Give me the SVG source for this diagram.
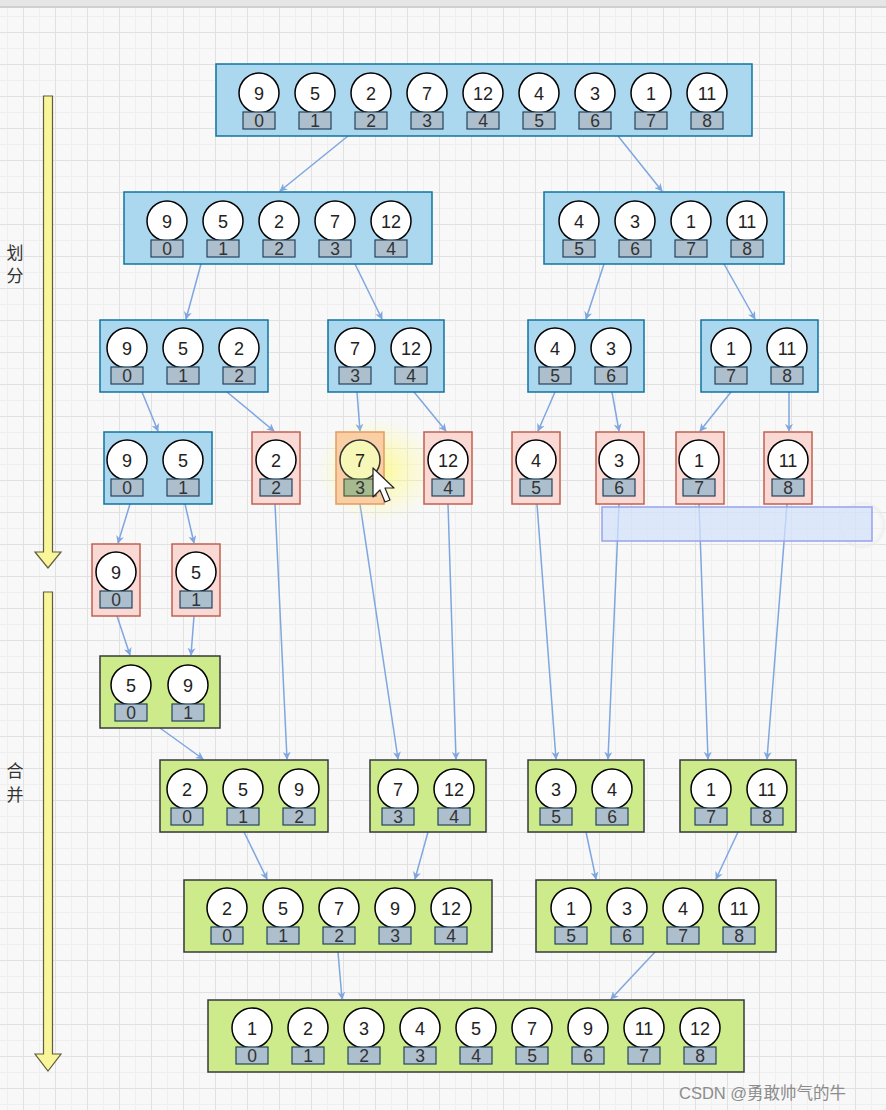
<svg xmlns="http://www.w3.org/2000/svg" width="886" height="1110" viewBox="0 0 886 1110">
<defs>
<pattern id="grid" x="23" y="0" width="32" height="32" patternUnits="userSpaceOnUse">
<rect width="32" height="32" fill="#f8f8f8"/>
<path d="M16.5,0 V32 M0,16.5 H32" stroke="#efefef" stroke-width="1"/>
<path d="M0.5,0 V32 M0,0.5 H32" stroke="#e1e1e1" stroke-width="1"/>
</pattern>
<marker id="ah" viewBox="0 0 10 10" refX="9" refY="5" markerWidth="8" markerHeight="8" markerUnits="userSpaceOnUse" orient="auto">
<path d="M0,0 L10,5 L0,10 L3,5 Z" fill="#7ea6e0"/>
</marker>
<radialGradient id="glow" cx="0.5" cy="0.5" r="0.5">
<stop offset="0" stop-color="#fffb6a" stop-opacity="0.7"/>
<stop offset="0.55" stop-color="#fffb8a" stop-opacity="0.35"/>
<stop offset="1" stop-color="#ffffa0" stop-opacity="0"/>
</radialGradient>
<radialGradient id="glow2" cx="0.5" cy="0.5" r="0.5">
<stop offset="0.6" stop-color="#ffffff" stop-opacity="0"/>
<stop offset="0.85" stop-color="#e8e8e8" stop-opacity="0.6"/>
<stop offset="1" stop-color="#ffffff" stop-opacity="0"/>
</radialGradient>
</defs>
<style>
.blue{fill:#acd8ef;stroke:#10739e;stroke-width:1.5}
.red{fill:#fad9d5;stroke:#c0604f;stroke-width:1.5}
.green{fill:#cdeb8b;stroke:#36393d;stroke-width:1.5}
.c{fill:#ffffff;stroke:#000000;stroke-width:1.5}
.ix{fill:#adbecd;stroke:#23445d;stroke-width:1.2}
.n{font-family:"Liberation Sans",Arial,sans-serif;font-size:18px;fill:#222;text-anchor:middle}
.i{font-family:"Liberation Sans",Arial,sans-serif;font-size:17.5px;fill:#333;text-anchor:middle}
.lbl{font-family:"Noto Sans CJK SC","Noto Sans",sans-serif;font-size:17px;fill:#333;text-anchor:middle}
.conn line{stroke:#7ea6e0;stroke-width:1.5;marker-end:url(#ah)}
.yarrow{fill:#f9f59a;stroke:#5e5e3e;stroke-width:1.2}
</style>
<rect width="886" height="1110" fill="url(#grid)"/>
<rect x="0" y="0" width="886" height="6" fill="#e6e6e6"/>
<rect x="0" y="6" width="886" height="2" fill="#d0d0d0"/>

<g id="side">
<path class="yarrow" d="M43.5,96 H52.5 V552 H61 L48,568 L35,552 H43.5 Z"/>
<path class="yarrow" d="M43.5,592 H52.5 V1054 H61 L48,1071 L35,1054 H43.5 Z"/>
<text class="lbl" x="15" y="259">划</text>
<text class="lbl" x="15" y="282">分</text>
<text class="lbl" x="15" y="777">合</text>
<text class="lbl" x="15" y="801">并</text>
</g>

<g class="conn" id="connectors">
<line x1="348" y1="136" x2="280" y2="191"/>
<line x1="618" y1="136" x2="662" y2="191"/>
<line x1="201" y1="264" x2="186" y2="319"/>
<line x1="355" y1="264" x2="382" y2="319"/>
<line x1="604" y1="264" x2="586" y2="319"/>
<line x1="724" y1="264" x2="755" y2="319"/>
<line x1="142" y1="392" x2="158" y2="431"/>
<line x1="227" y1="392" x2="274" y2="431"/>
<line x1="357" y1="392" x2="360" y2="431"/>
<line x1="414" y1="392" x2="446" y2="431"/>
<line x1="555" y1="392" x2="538" y2="431"/>
<line x1="612" y1="392" x2="619" y2="431"/>
<line x1="731" y1="392" x2="700" y2="431"/>
<line x1="789" y1="392" x2="789" y2="431"/>
<line x1="130" y1="504" x2="118" y2="543"/>
<line x1="185" y1="504" x2="194" y2="543"/>
<line x1="117" y1="616" x2="130" y2="655"/>
<line x1="194" y1="616" x2="191" y2="655"/>
<line x1="160" y1="728" x2="203" y2="759"/>
<line x1="275" y1="504" x2="287" y2="759"/>
<line x1="360" y1="504" x2="398" y2="759"/>
<line x1="448" y1="504" x2="456" y2="759"/>
<line x1="537" y1="504" x2="556" y2="759"/>
<line x1="619" y1="504" x2="608" y2="759"/>
<line x1="699" y1="504" x2="708" y2="759"/>
<line x1="787" y1="504" x2="767" y2="759"/>
<line x1="244" y1="832" x2="267" y2="879"/>
<line x1="428" y1="832" x2="415" y2="879"/>
<line x1="586" y1="832" x2="596" y2="879"/>
<line x1="738" y1="832" x2="716" y2="879"/>
<line x1="338" y1="952" x2="342" y2="999"/>
<line x1="655" y1="952" x2="611" y2="999"/>
</g>

<g id="n-top">
<rect class="blue" x="216" y="64" width="536" height="72"/>
<circle class="c" cx="259" cy="93" r="20"/><rect class="ix" x="243" y="112" width="32" height="17"/><text class="n" x="259" y="100">9</text><text class="i" x="259" y="127">0</text>
<circle class="c" cx="315" cy="93" r="20"/><rect class="ix" x="299" y="112" width="32" height="17"/><text class="n" x="315" y="100">5</text><text class="i" x="315" y="127">1</text>
<circle class="c" cx="371" cy="93" r="20"/><rect class="ix" x="355" y="112" width="32" height="17"/><text class="n" x="371" y="100">2</text><text class="i" x="371" y="127">2</text>
<circle class="c" cx="427" cy="93" r="20"/><rect class="ix" x="411" y="112" width="32" height="17"/><text class="n" x="427" y="100">7</text><text class="i" x="427" y="127">3</text>
<circle class="c" cx="483" cy="93" r="20"/><rect class="ix" x="467" y="112" width="32" height="17"/><text class="n" x="483" y="100">12</text><text class="i" x="483" y="127">4</text>
<circle class="c" cx="539" cy="93" r="20"/><rect class="ix" x="523" y="112" width="32" height="17"/><text class="n" x="539" y="100">4</text><text class="i" x="539" y="127">5</text>
<circle class="c" cx="595" cy="93" r="20"/><rect class="ix" x="579" y="112" width="32" height="17"/><text class="n" x="595" y="100">3</text><text class="i" x="595" y="127">6</text>
<circle class="c" cx="651" cy="93" r="20"/><rect class="ix" x="635" y="112" width="32" height="17"/><text class="n" x="651" y="100">1</text><text class="i" x="651" y="127">7</text>
<circle class="c" cx="707" cy="93" r="20"/><rect class="ix" x="691" y="112" width="32" height="17"/><text class="n" x="707" y="100">11</text><text class="i" x="707" y="127">8</text>
</g>

<g id="n-l2a">
<rect class="blue" x="124" y="192" width="308" height="72"/>
<circle class="c" cx="167" cy="221" r="20"/><rect class="ix" x="151" y="240" width="32" height="17"/><text class="n" x="167" y="228">9</text><text class="i" x="167" y="255">0</text>
<circle class="c" cx="223" cy="221" r="20"/><rect class="ix" x="207" y="240" width="32" height="17"/><text class="n" x="223" y="228">5</text><text class="i" x="223" y="255">1</text>
<circle class="c" cx="279" cy="221" r="20"/><rect class="ix" x="263" y="240" width="32" height="17"/><text class="n" x="279" y="228">2</text><text class="i" x="279" y="255">2</text>
<circle class="c" cx="335" cy="221" r="20"/><rect class="ix" x="319" y="240" width="32" height="17"/><text class="n" x="335" y="228">7</text><text class="i" x="335" y="255">3</text>
<circle class="c" cx="391" cy="221" r="20"/><rect class="ix" x="375" y="240" width="32" height="17"/><text class="n" x="391" y="228">12</text><text class="i" x="391" y="255">4</text>
</g>
<g id="n-l2b">
<rect class="blue" x="544" y="192" width="240" height="72"/>
<circle class="c" cx="579" cy="221" r="20"/><rect class="ix" x="563" y="240" width="32" height="17"/><text class="n" x="579" y="228">4</text><text class="i" x="579" y="255">5</text>
<circle class="c" cx="635" cy="221" r="20"/><rect class="ix" x="619" y="240" width="32" height="17"/><text class="n" x="635" y="228">3</text><text class="i" x="635" y="255">6</text>
<circle class="c" cx="691" cy="221" r="20"/><rect class="ix" x="675" y="240" width="32" height="17"/><text class="n" x="691" y="228">1</text><text class="i" x="691" y="255">7</text>
<circle class="c" cx="747" cy="221" r="20"/><rect class="ix" x="731" y="240" width="32" height="17"/><text class="n" x="747" y="228">11</text><text class="i" x="747" y="255">8</text>
</g>

<g id="n-l3a">
<rect class="blue" x="100" y="320" width="168" height="72"/>
<circle class="c" cx="127" cy="348" r="20"/><rect class="ix" x="111" y="367" width="32" height="17"/><text class="n" x="127" y="355">9</text><text class="i" x="127" y="382">0</text>
<circle class="c" cx="183" cy="348" r="20"/><rect class="ix" x="167" y="367" width="32" height="17"/><text class="n" x="183" y="355">5</text><text class="i" x="183" y="382">1</text>
<circle class="c" cx="239" cy="348" r="20"/><rect class="ix" x="223" y="367" width="32" height="17"/><text class="n" x="239" y="355">2</text><text class="i" x="239" y="382">2</text>
</g>
<g id="n-l3b">
<rect class="blue" x="328" y="320" width="116" height="72"/>
<circle class="c" cx="355" cy="348" r="20"/><rect class="ix" x="339" y="367" width="32" height="17"/><text class="n" x="355" y="355">7</text><text class="i" x="355" y="382">3</text>
<circle class="c" cx="411" cy="348" r="20"/><rect class="ix" x="395" y="367" width="32" height="17"/><text class="n" x="411" y="355">12</text><text class="i" x="411" y="382">4</text>
</g>
<g id="n-l3c">
<rect class="blue" x="528" y="320" width="116" height="72"/>
<circle class="c" cx="555" cy="348" r="20"/><rect class="ix" x="539" y="367" width="32" height="17"/><text class="n" x="555" y="355">4</text><text class="i" x="555" y="382">5</text>
<circle class="c" cx="611" cy="348" r="20"/><rect class="ix" x="595" y="367" width="32" height="17"/><text class="n" x="611" y="355">3</text><text class="i" x="611" y="382">6</text>
</g>
<g id="n-l3d">
<rect class="blue" x="701" y="320" width="117" height="72"/>
<circle class="c" cx="731" cy="348" r="20"/><rect class="ix" x="715" y="367" width="32" height="17"/><text class="n" x="731" y="355">1</text><text class="i" x="731" y="382">7</text>
<circle class="c" cx="787" cy="348" r="20"/><rect class="ix" x="771" y="367" width="32" height="17"/><text class="n" x="787" y="355">11</text><text class="i" x="787" y="382">8</text>
</g>

<g id="n-l4a">
<rect class="blue" x="104" y="432" width="108" height="72"/>
<circle class="c" cx="127" cy="460" r="20"/><rect class="ix" x="111" y="479" width="32" height="17"/><text class="n" x="127" y="467">9</text><text class="i" x="127" y="494">0</text>
<circle class="c" cx="183" cy="460" r="20"/><rect class="ix" x="167" y="479" width="32" height="17"/><text class="n" x="183" y="467">5</text><text class="i" x="183" y="494">1</text>
</g>
<g id="n-l4b">
<rect class="red" x="252" y="432" width="48" height="72"/>
<circle class="c" cx="276" cy="460" r="20"/><rect class="ix" x="260" y="479" width="32" height="17"/><text class="n" x="276" y="467">2</text><text class="i" x="276" y="494">2</text>
</g>
<g id="glowfx">
<ellipse cx="378" cy="470" rx="62" ry="52" fill="url(#glow)"/>
</g>
<g id="n-l4c">
<rect x="336" y="432" width="48" height="72" fill="#fbcfa6" stroke="#e39a60" stroke-width="1.5"/>
<circle cx="360" cy="460" r="20" fill="#f7f7b8" stroke="#333" stroke-width="1.5"/><rect x="344" y="479" width="32" height="17" fill="#a6ba90" stroke="#4a5d3a" stroke-width="1.2"/><text class="n" x="360" y="467">7</text><text class="i" x="360" y="494">3</text>
</g>
<g id="n-l4d">
<rect class="red" x="424" y="432" width="48" height="72"/>
<circle class="c" cx="448" cy="460" r="20"/><rect class="ix" x="432" y="479" width="32" height="17"/><text class="n" x="448" y="467">12</text><text class="i" x="448" y="494">4</text>
</g>
<g id="n-l4e">
<rect class="red" x="512" y="432" width="48" height="72"/>
<circle class="c" cx="536" cy="460" r="20"/><rect class="ix" x="520" y="479" width="32" height="17"/><text class="n" x="536" y="467">4</text><text class="i" x="536" y="494">5</text>
</g>
<g id="n-l4f">
<rect class="red" x="596" y="432" width="48" height="72"/>
<circle class="c" cx="619" cy="460" r="20"/><rect class="ix" x="603" y="479" width="32" height="17"/><text class="n" x="619" y="467">3</text><text class="i" x="619" y="494">6</text>
</g>
<g id="n-l4g">
<rect class="red" x="676" y="432" width="48" height="72"/>
<circle class="c" cx="699" cy="460" r="20"/><rect class="ix" x="683" y="479" width="32" height="17"/><text class="n" x="699" y="467">1</text><text class="i" x="699" y="494">7</text>
</g>
<g id="n-l4h">
<rect class="red" x="764" y="432" width="48" height="72"/>
<circle class="c" cx="788" cy="460" r="20"/><rect class="ix" x="772" y="479" width="32" height="17"/><text class="n" x="788" y="467">11</text><text class="i" x="788" y="494">8</text>
</g>

<g id="cursor">
<path d="M373,468 L373,497 L380,490 L385,502 L390,500 L385,488 L394,488 Z" fill="#ffffff" stroke="#222" stroke-width="1.2" stroke-linejoin="round"/>
</g>

<g id="highlight">
<circle cx="862" cy="525" r="26" fill="url(#glow2)"/>
<rect x="602" y="507" width="270" height="34" fill="#d3e2fb" fill-opacity="0.75" stroke="#98a2ec" stroke-width="1.5"/>
</g>

<g id="n-l5a">
<rect class="red" x="92" y="544" width="48" height="72"/>
<circle class="c" cx="116" cy="572" r="20"/><rect class="ix" x="100" y="591" width="32" height="17"/><text class="n" x="116" y="579">9</text><text class="i" x="116" y="606">0</text>
</g>
<g id="n-l5b">
<rect class="red" x="172" y="544" width="48" height="72"/>
<circle class="c" cx="196" cy="572" r="20"/><rect class="ix" x="180" y="591" width="32" height="17"/><text class="n" x="196" y="579">5</text><text class="i" x="196" y="606">1</text>
</g>

<g id="n-l6">
<rect class="green" x="100" y="656" width="120" height="72"/>
<circle class="c" cx="131" cy="685" r="20"/><rect class="ix" x="115" y="704" width="32" height="17"/><text class="n" x="131" y="692">5</text><text class="i" x="131" y="719">0</text>
<circle class="c" cx="188" cy="685" r="20"/><rect class="ix" x="172" y="704" width="32" height="17"/><text class="n" x="188" y="692">9</text><text class="i" x="188" y="719">1</text>
</g>

<g id="n-l7a">
<rect class="green" x="160" y="760" width="168" height="72"/>
<circle class="c" cx="187" cy="789" r="20"/><rect class="ix" x="171" y="808" width="32" height="17"/><text class="n" x="187" y="796">2</text><text class="i" x="187" y="823">0</text>
<circle class="c" cx="243" cy="789" r="20"/><rect class="ix" x="227" y="808" width="32" height="17"/><text class="n" x="243" y="796">5</text><text class="i" x="243" y="823">1</text>
<circle class="c" cx="299" cy="789" r="20"/><rect class="ix" x="283" y="808" width="32" height="17"/><text class="n" x="299" y="796">9</text><text class="i" x="299" y="823">2</text>
</g>
<g id="n-l7b">
<rect class="green" x="370" y="760" width="116" height="72"/>
<circle class="c" cx="398" cy="789" r="20"/><rect class="ix" x="382" y="808" width="32" height="17"/><text class="n" x="398" y="796">7</text><text class="i" x="398" y="823">3</text>
<circle class="c" cx="454" cy="789" r="20"/><rect class="ix" x="438" y="808" width="32" height="17"/><text class="n" x="454" y="796">12</text><text class="i" x="454" y="823">4</text>
</g>
<g id="n-l7c">
<rect class="green" x="528" y="760" width="116" height="72"/>
<circle class="c" cx="556" cy="789" r="20"/><rect class="ix" x="540" y="808" width="32" height="17"/><text class="n" x="556" y="796">3</text><text class="i" x="556" y="823">5</text>
<circle class="c" cx="612" cy="789" r="20"/><rect class="ix" x="596" y="808" width="32" height="17"/><text class="n" x="612" y="796">4</text><text class="i" x="612" y="823">6</text>
</g>
<g id="n-l7d">
<rect class="green" x="680" y="760" width="116" height="72"/>
<circle class="c" cx="711" cy="789" r="20"/><rect class="ix" x="695" y="808" width="32" height="17"/><text class="n" x="711" y="796">1</text><text class="i" x="711" y="823">7</text>
<circle class="c" cx="767" cy="789" r="20"/><rect class="ix" x="751" y="808" width="32" height="17"/><text class="n" x="767" y="796">11</text><text class="i" x="767" y="823">8</text>
</g>

<g id="n-l8a">
<rect class="green" x="184" y="880" width="308" height="72"/>
<circle class="c" cx="227" cy="908" r="20"/><rect class="ix" x="211" y="927" width="32" height="17"/><text class="n" x="227" y="915">2</text><text class="i" x="227" y="942">0</text>
<circle class="c" cx="283" cy="908" r="20"/><rect class="ix" x="267" y="927" width="32" height="17"/><text class="n" x="283" y="915">5</text><text class="i" x="283" y="942">1</text>
<circle class="c" cx="339" cy="908" r="20"/><rect class="ix" x="323" y="927" width="32" height="17"/><text class="n" x="339" y="915">7</text><text class="i" x="339" y="942">2</text>
<circle class="c" cx="395" cy="908" r="20"/><rect class="ix" x="379" y="927" width="32" height="17"/><text class="n" x="395" y="915">9</text><text class="i" x="395" y="942">3</text>
<circle class="c" cx="451" cy="908" r="20"/><rect class="ix" x="435" y="927" width="32" height="17"/><text class="n" x="451" y="915">12</text><text class="i" x="451" y="942">4</text>
</g>
<g id="n-l8b">
<rect class="green" x="536" y="880" width="240" height="72"/>
<circle class="c" cx="571" cy="908" r="20"/><rect class="ix" x="555" y="927" width="32" height="17"/><text class="n" x="571" y="915">1</text><text class="i" x="571" y="942">5</text>
<circle class="c" cx="627" cy="908" r="20"/><rect class="ix" x="611" y="927" width="32" height="17"/><text class="n" x="627" y="915">3</text><text class="i" x="627" y="942">6</text>
<circle class="c" cx="683" cy="908" r="20"/><rect class="ix" x="667" y="927" width="32" height="17"/><text class="n" x="683" y="915">4</text><text class="i" x="683" y="942">7</text>
<circle class="c" cx="739" cy="908" r="20"/><rect class="ix" x="723" y="927" width="32" height="17"/><text class="n" x="739" y="915">11</text><text class="i" x="739" y="942">8</text>
</g>

<g id="n-l9">
<rect class="green" x="208" y="1000" width="536" height="72"/>
<circle class="c" cx="252" cy="1028" r="20"/><rect class="ix" x="236" y="1047" width="32" height="17"/><text class="n" x="252" y="1035">1</text><text class="i" x="252" y="1062">0</text>
<circle class="c" cx="308" cy="1028" r="20"/><rect class="ix" x="292" y="1047" width="32" height="17"/><text class="n" x="308" y="1035">2</text><text class="i" x="308" y="1062">1</text>
<circle class="c" cx="364" cy="1028" r="20"/><rect class="ix" x="348" y="1047" width="32" height="17"/><text class="n" x="364" y="1035">3</text><text class="i" x="364" y="1062">2</text>
<circle class="c" cx="420" cy="1028" r="20"/><rect class="ix" x="404" y="1047" width="32" height="17"/><text class="n" x="420" y="1035">4</text><text class="i" x="420" y="1062">3</text>
<circle class="c" cx="476" cy="1028" r="20"/><rect class="ix" x="460" y="1047" width="32" height="17"/><text class="n" x="476" y="1035">5</text><text class="i" x="476" y="1062">4</text>
<circle class="c" cx="532" cy="1028" r="20"/><rect class="ix" x="516" y="1047" width="32" height="17"/><text class="n" x="532" y="1035">7</text><text class="i" x="532" y="1062">5</text>
<circle class="c" cx="588" cy="1028" r="20"/><rect class="ix" x="572" y="1047" width="32" height="17"/><text class="n" x="588" y="1035">9</text><text class="i" x="588" y="1062">6</text>
<circle class="c" cx="644" cy="1028" r="20"/><rect class="ix" x="628" y="1047" width="32" height="17"/><text class="n" x="644" y="1035">11</text><text class="i" x="644" y="1062">7</text>
<circle class="c" cx="700" cy="1028" r="20"/><rect class="ix" x="684" y="1047" width="32" height="17"/><text class="n" x="700" y="1035">12</text><text class="i" x="700" y="1062">8</text>
</g>

<text x="679" y="1099" font-family="'Liberation Sans','Noto Sans CJK SC',sans-serif" font-size="16.5" fill="#8c8c8c">CSDN @勇敢帅气的牛</text>
</svg>
